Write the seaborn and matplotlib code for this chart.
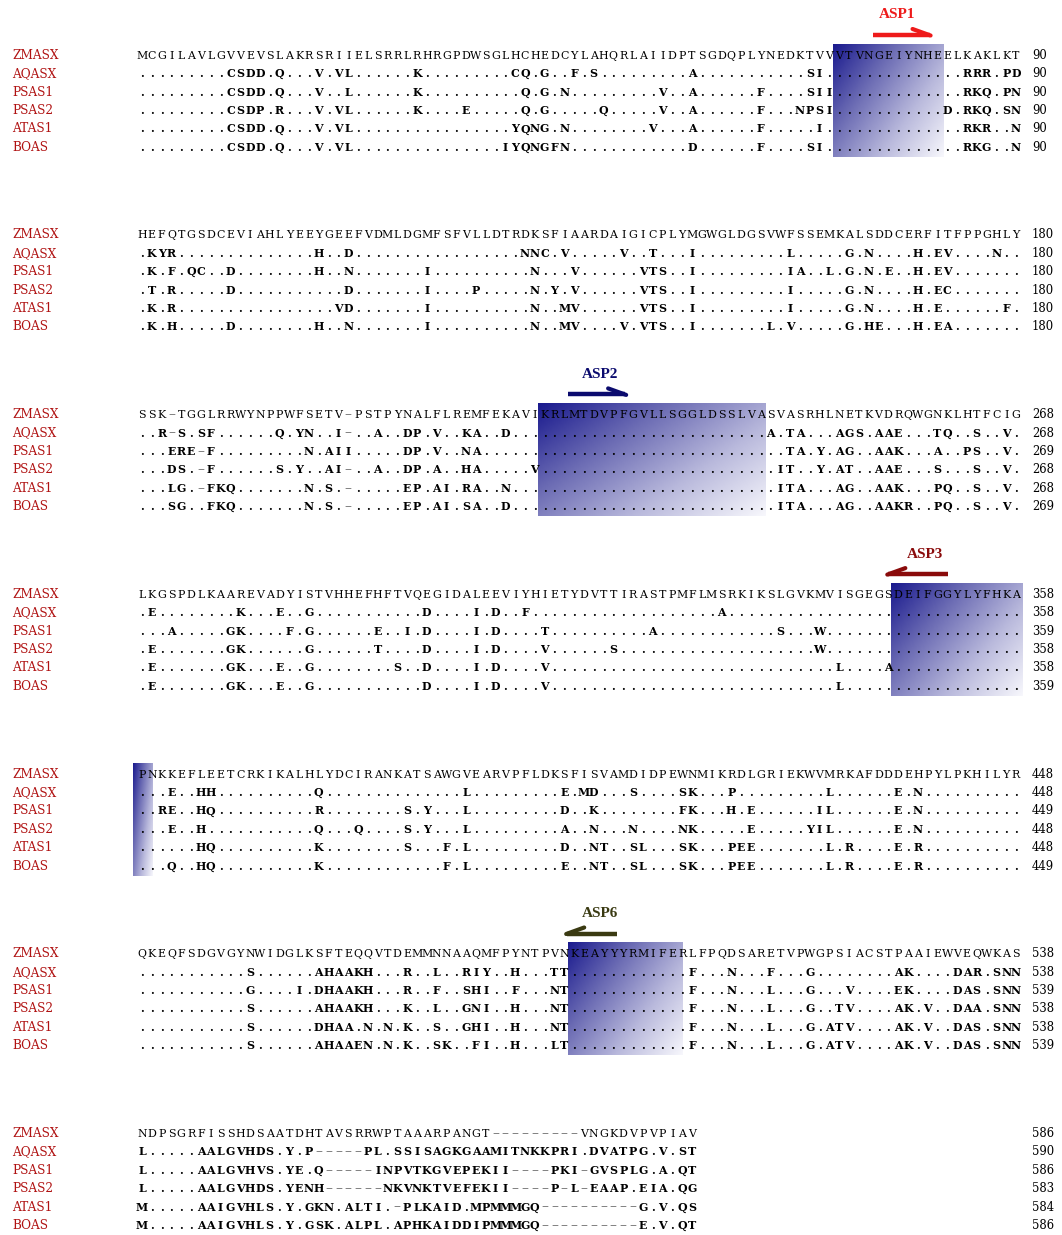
import numpy as np
import matplotlib
matplotlib.use("Agg")
import matplotlib.pyplot as plt
from matplotlib.colors import LinearSegmentedColormap
import seaborn as sns

# ---------------- data ----------------
species = ["ZMASX", "AQASX", "PSAS1", "PSAS2", "ATAS1", "BOAS"]

zmasx = [
    "MCGILAVLGVVEVSLAKRSRIIELSRRLRHRGPDWSGLHCHEDCYLAHQRLAIIDPTSGDQPLYNEDKTVVVTVNGEIYNHEELKAKLKT",
    "HEFQTGSDCEVIAHLYEEYGEEFVDMLDGMFSFVLLDTRDKSFIAARDAIGICPLYMGWGLDGSVWFSSEMKALSDDCERFITFPPGHLY",
    "SSK-TGGLRRWYNPPWFSETV-PSTPYNALFLREMFEKAVIKRLMTDVPFGVLLSGGLDSSLVASVASRHLNETKVDRQWGNKLHTFCIG",
    "LKGSPDLKAAREVADYISTVHHEFHFTVQEGIDALEEVIYHIETYDVTTIRASTPMFLMSRKIKSLGVKMVISGEGSDEIFGGYLYFHKA",
    "PNKKEFLEETCRKIKALHLYDCIRANKATSAWGVEARVPFLDKSFISVAMDIDPEWNMIKRDLGRIEKWVMRKAFDDDEHPYLPKHILYR",
    "QKEQFSDGVGYNWIDGLKSFTEQQVTDEMMNNAAQMFPYNTPVNKEAYYYRMIFERLFPQDSARETVPWGPSIACSTPAAIEWVEQWKAS",
    "NDPSGRFISSHDSAATDHTAVSRRWPTAAARPANGT---------VNGKDVPVPIAV",
]

# differences from ZMASX: "column:residues" ('.' = identical residue)
aqasx = [
    "10:CSDD 15:Q 19:V 21:VL 29:K 39:CQ 42:G 45:F 47:S 57:A 69:SI 85:RRR 89:PD",
    "2:KYR 19:H 22:D 40:NNC 44:V 50:V 53:T 57:I 67:L 73:G 75:N 80:H 82:EV 88:N",
    "3:R- 5:S 7:SF 15:Q 17:YN 21:I- 25:A 28:DP 31:V 34:KA 38:D 65:A 67:TA 72:AGS 76:AAE 82:TQ 86:S 89:V",
    "2:E 11:K 15:E 18:G 30:D 35:I 37:D 40:F 60:A",
    "4:E 7:HH 19:Q 34:L 44:E 46:MD 51:S 56:SK 61:P 71:L 78:E 80:N",
    "12:S 19:AHAAKH 28:R 31:L 34:RIY 39:H 43:TT 57:F 61:N 65:F 69:G 78:AK 84:DAR 88:SNN",
    "1:L.....AALGVHDS.Y.P-----PL.SSISAGKGAAMITNKKPRI.DVATPG.V.ST",
]
psas1 = [
    "10:CSDD 15:Q 19:V 22:L 29:K 40:Q 42:G 44:N 54:V 57:A 64:F 69:SII 85:RKQ 89:PN",
    "2:K 4:F 6:QC 10:D 19:H 22:N 30:I 41:N 45:V 52:VTS 57:I 67:IA 71:L 73:G 75:N 77:E 80:H 82:EV",
    "4:ERE-F 18:N 20:AII 28:DP 31:V 34:NA 67:TA 70:Y 72:AG 76:AAK 82:A 85:PS 89:V",
    "4:A 10:GK 16:F 18:G 25:E 28:I 30:D 35:I 37:D 42:T 53:A 66:S 70:W",
    "3:RE 7:HQ 19:R 28:S 30:Y 34:L 44:D 47:K 56:FK 61:H 63:E 70:IL 78:E 80:N",
    "12:G 17:I 19:DHAAKH 28:R 31:F 34:SHI 39:F 43:NT 57:F 61:N 65:L 69:G 73:V 78:EK 84:DAS 88:SNN",
    "1:L.....AALGVHVS.YE.Q-----INPVTKGVEPEKII----PKI-GVSPLG.A.QT",
]
psas2 = [
    "10:CSDP 15:R 19:V 21:VL 29:K 34:E 40:Q 42:G 48:Q 54:V 57:A 64:F 68:NPSI 83:D 85:RKQ 89:SN",
    "2:T 4:R 10:D 22:D 30:I 35:P 41:N 43:Y 45:V 52:VTS 57:I 67:I 73:G 75:N 80:H 82:EC",
    "4:DS 7:-F 15:S 17:Y 20:AI- 25:A 28:DP 31:A 34:HA 41:V 66:IT 70:Y 72:AT 76:AAE 82:S 86:S 89:V",
    "2:E 10:GK 18:G 25:T 30:D 35:I 37:D 42:V 49:S 70:W",
    "4:E 7:H 19:Q 23:Q 28:S 30:Y 34:L 44:A 47:N 51:N 56:NK 63:E 69:YIL 78:E 80:N",
    "12:S 19:AHAAKH 28:K 31:L 34:GNI 39:H 43:NT 57:F 61:N 65:L 69:G 72:TV 78:AK 81:V 84:DAA 88:SNN",
    "1:L.....AALGVHDS.YENH------NKVNKTVEFEKII----P-L-EAAP.EIA.QG",
]
atas1 = [
    "10:CSDD 15:Q 19:V 21:VL 39:YQNG 44:N 53:V 57:A 64:F 70:I 85:RKR 90:N",
    "2:K 4:R 21:VD 30:I 41:N 44:MV 52:VTS 57:I 67:I 73:G 75:N 80:H 82:E 89:F",
    "4:LG 7:-FKQ 18:N 20:S 22:- 28:EP 31:AI 34:RA 38:N 66:ITA 72:AG 76:AAK 82:PQ 86:S 89:V",
    "2:E 10:GK 15:E 18:G 27:S 30:D 35:I 37:D 42:V 72:L 77:A",
    "7:HQ 19:K 28:S 32:F 34:L 44:D 47:NT 51:SL 56:SK 61:PEE 71:L 73:R 78:E 80:R",
    "12:S 19:DHAA 24:N 26:N 28:K 31:S 34:GHI 39:H 43:NT 57:F 61:N 65:L 69:G 71:ATV 78:AK 81:V 84:DAS 88:SNN",
    "1:M.....AAIGVHLS.Y.GKN.ALTI.-PLKAID.MPMMMGQ----------G.V.QS",
]
boas = [
    "10:CSDD 15:Q 19:V 21:VL 38:IYQNGFN 57:D 64:F 69:SI 85:RKG 90:N",
    "2:K 4:H 10:D 19:H 22:N 30:I 41:N 44:MV 50:V 52:VTS 57:I 65:L 67:V 73:G 75:HE 80:H 82:EA",
    "4:SG 8:FKQ 18:N 20:S 22:- 28:EP 31:AI 34:SA 38:D 66:ITA 72:AG 76:AAKR 82:PQ 86:S 89:V",
    "2:E 10:GK 15:E 18:G 30:D 35:I 37:D 42:V 72:L",
    "4:Q 7:HQ 19:K 32:F 34:L 44:E 47:NT 51:SL 56:SK 61:PEE 71:L 73:R 78:E 80:R",
    "12:S 19:AHAAEN 26:N 28:K 31:SK 35:FI 39:H 43:LT 57:F 61:N 65:L 69:G 71:ATV 78:AK 81:V 84:DAS 88:SNN",
    "1:M.....AAIGVHLS.Y.GSK.ALPL.APHKAIDDIPMMMGQ----------E.V.QT",
]

end_numbers = [
    [90, 90, 90, 90, 90, 90],
    [180, 180, 180, 180, 180, 180],
    [268, 268, 269, 268, 268, 269],
    [358, 358, 359, 358, 358, 359],
    [448, 448, 449, 448, 448, 449],
    [538, 538, 539, 538, 538, 539],
    [586, 590, 586, 583, 584, 586],
]

motif_labels = ["ASP1", "ASP2", "ASP3", "", "ASP6"]
motif_block = [0, 2, 3, 4, 5]
motif_cols = [(72, 82), (42, 64), (78, 90), (1, 2), (45, 56)]
motif_direction = ["right", "right", "left", None, "left"]
motif_colors = ["#ee1a1a", "#0b0b6e", "#8a0b0b", None, "#3a3a12"]

# ---------------- layout / style ----------------
X0, DX = 142.0, 9.82          # pixel x of column 1, column pitch
Y0, BDY, RDY = 55.0, 179.7, 18.4
box_pad = [(-0.6, 0.7), (-0.7, 0.5), (-0.75, 0.6), (-0.95, 0.05), (-0.6, 0.1)]
arrow_cols = [(75.4, 81.2), (44.4, 50.2), (77.0, 83.1), None, (44.3, 49.4)]
label_cols = [77.9, 47.6, 80.7, None, 47.6]

sns.set_theme(style="white")
plt.rcParams["font.family"] = ["DejaVu Serif", "DejaVu Sans"]

fig = plt.figure(figsize=(10.62, 12.35), dpi=100)
ax = fig.add_axes([0, 0, 1, 1])
ax.set_axis_off()


def expand(spec, n):
    arr = ["."] * n
    for tok in spec.split():
        c, s = tok.split(":", 1)
        c = int(c)
        for i, ch in enumerate(s):
            arr[c - 1 + i] = ch
    return "".join(arr)


def colx(c):
    return X0 + (c - 1) * DX


def rowy(b, r):
    return Y0 + b * BDY + r * RDY


# gradient boxes
grad_cmap = LinearSegmentedColormap.from_list(
    "g", ["#1a1a8e", "#6c6cb4", "#b9b9dc", "#f7f7fc"])
for k, b in enumerate(motif_block):
    c0, c1 = motif_cols[k]
    p0, p1 = box_pad[k]
    x0 = colx(c0) + p0 * DX
    x1 = colx(c1) + p1 * DX
    y0 = rowy(b, 0) - 11
    y1 = rowy(b, 5) + 10
    u = np.linspace(0, 1, 120)
    v = np.linspace(0, 1, 120)
    U, V = np.meshgrid(u, v)
    T = 0.58 * U + 0.42 * V
    ax.imshow(T, cmap=grad_cmap, vmin=0, vmax=1, extent=(x0, x1, y1, y0),
              origin="upper", aspect="auto", interpolation="bilinear", zorder=1)

    if motif_labels[k]:
        col = motif_colors[k]
        ya = rowy(b, 0) - 20
        a0, a1 = arrow_cols[k]
        xa0, xa1 = colx(a0), colx(a1)
        ax.plot([xa0, xa1], [ya, ya], color=col, lw=3.2, solid_capstyle="butt", zorder=3)
        if motif_direction[k] == "right":
            ax.plot([xa1 - 17, xa1 + 1], [ya - 6, ya + 0.5], color=col, lw=3.0,
                    solid_capstyle="round", zorder=3)
        else:
            ax.plot([xa0 + 17, xa0 - 1], [ya - 6, ya + 0.5], color=col, lw=3.0,
                    solid_capstyle="round", zorder=3)
        ax.text(colx(label_cols[k]), rowy(b, 0) - 40, motif_labels[k],
                color=col, fontsize=11, fontweight="bold",
                family=["Liberation Serif", "DejaVu Serif"],
                ha="center", va="center", zorder=3)

# sequences
others = [aqasx, psas1, psas2, atas1, boas]
for b, zseq in enumerate(zmasx):
    n = len(zseq)
    rows = [zseq] + [expand(o[b], n) for o in others]
    for r, seq in enumerate(rows):
        y = rowy(b, r)
        ax.text(12, y + 3.8, species[r], color="#b01212", fontsize=8.7,
                ha="left", va="baseline", zorder=4)
        for i, ch in enumerate(seq):
            if ch == "-":
                ax.text(colx(i + 1), y + 3.8, "\u2013", color="#5c5c5c", fontsize=10,
                        ha="center", va="baseline", zorder=4)
            else:
                ax.text(colx(i + 1), y + 3.8, ch, color="black", fontsize=7.9,
                        fontweight="normal" if r == 0 else "bold",
                        ha="center", va="baseline", zorder=4)
        ax.text(1032, y + 3.8, str(end_numbers[b][r]), color="black", fontsize=8.4,
                ha="left", va="baseline", zorder=4)

ax.set_xlim(0, 1062)
ax.set_ylim(1235, 0)
fig.savefig("out.png", dpi=100, facecolor="white")
